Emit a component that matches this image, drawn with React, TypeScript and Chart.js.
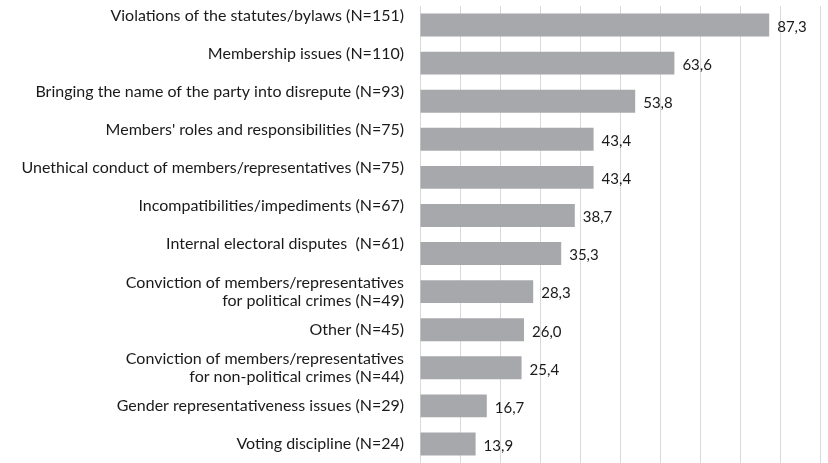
import React, { useEffect, useRef } from "react";
import { Chart, registerables } from "chart.js";

Chart.register(...registerables);

const categories: (string | string[])[] = [
  ["Violations of the statutes/bylaws (N=151)", ""],
  ["Membership issues (N=110)", ""],
  ["Bringing the name of the party into disrepute (N=93)", ""],
  ["Members' roles and responsibilities (N=75)", ""],
  ["Unethical conduct of members/representatives (N=75)", ""],
  ["Incompatibilities/impediments (N=67)", ""],
  ["Internal electoral disputes  (N=61)", ""],
  ["Conviction of members/representatives", "for political crimes (N=49)"],
  "Other (N=45)",
  ["Conviction of members/representatives", "for non-political crimes (N=44)"],
  "Gender representativeness issues (N=29)",
  "Voting discipline (N=24)",
];

const values: number[] = [87.3, 63.6, 53.8, 43.4, 43.4, 38.7, 35.3, 28.3, 26.0, 25.4, 16.7, 13.9];

const FONT = "Lato, 'Open Sans', sans-serif";

const valueLabels = {
  id: "valueLabels",
  afterDatasetsDraw(chart: any) {
    const ctx = chart.ctx;
    const meta = chart.getDatasetMeta(0);
    ctx.save();
    ctx.font = `15px ${FONT}`;
    ctx.fillStyle = "#1a1a1a";
    ctx.textAlign = "left";
    ctx.textBaseline = "middle";
    meta.data.forEach((bar: any, i: number) => {
      const txt = values[i].toFixed(1).replace(".", ",");
      ctx.fillText(txt, bar.x + 8, bar.y + 2);
    });
    ctx.restore();
  },
};

export default function App() {
  const ref = useRef<HTMLCanvasElement | null>(null);
  useEffect(() => {
    if (!ref.current) return;
    const chart = new Chart(ref.current, {
      type: "bar",
      data: {
        labels: categories,
        datasets: [
          {
            data: values,
            backgroundColor: "#a7a8ab",
            borderWidth: 0,
            barPercentage: 0.6,
            categoryPercentage: 1,
          },
        ],
      },
      options: {
        indexAxis: "y",
        responsive: false,
        animation: false,
        layout: { padding: { top: 6, bottom: 0, left: 0, right: 8 } },
        plugins: {
          legend: { display: false },
          tooltip: { enabled: false },
        },
        scales: {
          x: {
            min: 0,
            max: 100,
            ticks: { display: false, stepSize: 10 },
            grid: { color: "#d9d9d9", drawTicks: false, lineWidth: 1 },
            border: { display: false },
            afterFit: (scale: any) => {
              scale.height = 0;
              scale.paddingLeft = 0;
              scale.paddingRight = 0;
            },
          },
          y: {
            ticks: {
              color: "#1a1a1a",
              font: { family: FONT, size: 16, lineHeight: 1.15 },
              padding: 16,
              autoSkip: false,
            },
            grid: { display: false, drawTicks: false },
            border: { display: true, color: "#d9d9d9" },
            afterFit: (scale: any) => {
              scale.width = 420;
              scale.paddingTop = 0;
              scale.paddingBottom = 0;
            },
          },
        },
      },
      plugins: [valueLabels],
    });
    return () => chart.destroy();
  }, []);
  return (
    <div style={{ position: "absolute", left: 0, top: 0, width: 828, height: 463, background: "#fff" }}>
      <canvas ref={ref} width={828} height={463} />
    </div>
  );
}
